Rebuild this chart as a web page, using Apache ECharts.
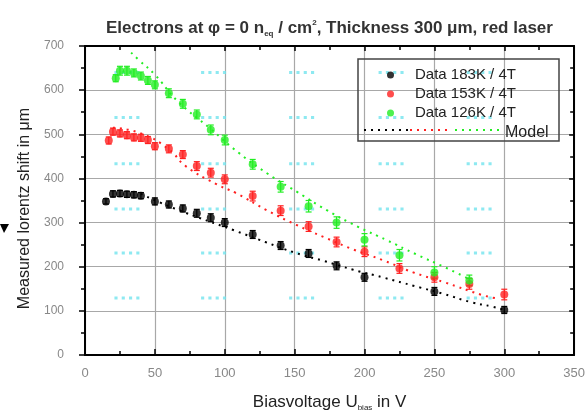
<!DOCTYPE html>
<html>
<head>
<meta charset="utf-8">
<script src="https://cdn.jsdelivr.net/npm/echarts@6/dist/echarts.min.js"></script>
<style>html,body{margin:0;padding:0;background:#fff}#c{width:588px;height:417px}</style>
</head>
<body>
<div id="c"></div>
<script>
// ---- data ----
const blackX = [15,20,25,30,35,40,50,60,70,80,90,100,120,140,160,180,200,250,300];
const blackY = [348,365,366,364,363,361,348,341,332,321,311,300,273,248,230,202,176,144,102];
const blackErr = [6,7,7,7,7,7,8,8,8,9,9,9,9,9,9,9,9,9,8];

const redX = [17,20,25,30,35,40,45,50,60,70,80,90,100,120,140,160,180,200,225,250,275,300];
const redY = [486,506,502,498,493,492,487,473,467,454,428,413,398,360,327,291,256,234,196,176,161,137];
const redErr = [8,8,8,8,8,8,8,8,9,9,10,10,10,11,11,11,11,11,11,11,12,12];

const greenX = [22,25,30,35,40,45,50,60,70,80,90,100,120,140,160,180,200,225,250,275];
const greenY = [627,644,644,639,632,622,612,593,569,545,510,487,432,381,337,300,261,226,187,169];
const greenErr = [8,10,10,9,9,9,9,10,10,10,11,11,11,12,13,13,14,13,13,12];

const modelBlackX = [40,64,107,129,150,171,192,214,236,256,277,291,300];
const modelBlackY = [365,332,282,256,232,213,193,175,156,139,119,110,102];
const modelRedX = [20,40,60,72,94,108,130,151,171,192,213,235,257,284,295];
const modelRedY = [515,502,466,428,387,367,328,295,267,239,215,187,165,136,128];
const modelGreenX = [33,39,50,66,90,110,131,152,173,195,216,237,258,275];
const modelGreenY = [685,667,635,576,512,458,410,369,328,291,260,228,198,172];

// faint cyan dot clusters (scan artefacts) – cluster centres
const cyanColsX = [30,92,155,219,282];
const cyanRowsY = [640,538,433,331,231,129];

const xTicks = {min:0, max:350, step:50};
const yTicks = {min:0, max:700, step:100};

const seriesNames = ['Data 183K / 4T','Data 153K / 4T','Data 126K / 4T'];
const colors = ['#000000','#ff2020','#22ee22'];

function zip(xs, ys){ return xs.map((x,i)=>[x,ys[i]]); }
function zip3(xs, ys, es){ return xs.map((x,i)=>[x,ys[i],es[i]]); }

const cyanPts = [];
cyanRowsY.forEach(y=>cyanColsX.forEach(x=>cyanPts.push([x,y])));

function errRender(color){
  return function(params, api){
    const x = api.value(0), y = api.value(1), e = api.value(2);
    const t = api.coord([x, y+e]), b = api.coord([x, y-e]);
    const w = 3;
    const st = {stroke: color, lineWidth: 1.2};
    return {type:'group', children:[
      {type:'line', shape:{x1:t[0],y1:t[1],x2:b[0],y2:b[1]}, style:st},
      {type:'line', shape:{x1:t[0]-w,y1:t[1],x2:t[0]+w,y2:t[1]}, style:st},
      {type:'line', shape:{x1:b[0]-w,y1:b[1],x2:b[0]+w,y2:b[1]}, style:st}
    ]};
  };
}

const dataSets = [
  {x:blackX, y:blackY, e:blackErr},
  {x:redX, y:redY, e:redErr},
  {x:greenX, y:greenY, e:greenErr}
];
const models = [
  {x:modelBlackX, y:modelBlackY},
  {x:modelRedX, y:modelRedY},
  {x:modelGreenX, y:modelGreenY}
];

const series = [];
series.push({
  name:'marks', type:'scatter', silent:true, z:1,
  symbol:'path://M0,0h3v3h-3z M7,0h3v3h-3z M14,0h3v3h-3z M21,0h3v3h-3z',
  symbolSize:[25,3],
  itemStyle:{color:'#72e4ee'},
  data:cyanPts
});
models.forEach((m,i)=>{
  series.push({
    name:'Model', type:'line', smooth:true, showSymbol:false, z:2,
    lineStyle:{color:colors[i], width:2, type:[2,5]},
    itemStyle:{color:colors[i]},
    data:zip(m.x,m.y)
  });
});
dataSets.forEach((d,i)=>{
  series.push({
    name:seriesNames[i], type:'scatter', z:4,
    symbol:'circle', symbolSize:8,
    itemStyle:{color:colors[i]},
    data:zip(d.x,d.y)
  });
  series.push({
    name:seriesNames[i], type:'custom', z:3,
    itemStyle:{color:colors[i]},
    renderItem:errRender(colors[i]),
    encode:{x:0,y:1},
    data:zip3(d.x,d.y,d.e)
  });
});

const chart = echarts.init(document.getElementById('c'), null, {renderer:'canvas'});
const axisCommon = {
  axisLine:{show:true, onZero:false, lineStyle:{color:'#000', width:2}},
};
const ff = 'Liberation Sans';
chart.setOption({
  animation:false,
  backgroundColor:'#fff',
  title:{
    left:106, top:13, padding:[5,0,5,0],
    text:'{a|Electrons at φ = 0 n}{s|eq}{a| / cm}{p|2}{a|, Thickness 300 μm, red laser}',
    textStyle:{
      fontWeight:'bold',
      rich:{
        a:{fontFamily:ff, fontSize:17, fontWeight:'bold', color:'#333'},
        s:{fontFamily:ff, fontSize:8, fontWeight:'bold', color:'#333', padding:[12,0,0,0]},
        p:{fontFamily:ff, fontSize:8, fontWeight:'bold', color:'#333', padding:[0,0,10,0]}
      }
    }
  },
  grid:{left:85, right:8, top:46, bottom:56, show:false},
  legend:[{
    data:seriesNames.map((n,i)=>({name:n, itemStyle:{color:colors[i]}})),
    orient:'vertical', left:382, top:60.5, selectedMode:true,
    icon:'circle', itemWidth:7, itemHeight:7, itemGap:0,
    textStyle:{fontFamily:ff, fontSize:15, color:'#222', lineHeight:19, padding:[0,0,0,16]}
  },{
    data:[{name:'Model', itemStyle:{opacity:0}, lineStyle:{opacity:0}}], left:494, top:118,
    icon:'rect', itemWidth:1, itemHeight:1,
    textStyle:{fontFamily:ff, fontSize:16, color:'#222', lineHeight:19}
  }],
  graphic:[
    {type:'rect', shape:{x:358, y:59, width:201, height:82}, style:{fill:'none', stroke:'#444', lineWidth:1.5}, z:10},
    {type:'line', shape:{x1:364,y1:130,x2:408,y2:130}, style:{stroke:'#000', lineWidth:2, lineDash:[2,5]}, z:10},
    {type:'line', shape:{x1:410,y1:130,x2:452,y2:130}, style:{stroke:'#ff2020', lineWidth:2, lineDash:[2,5]}, z:10},
    {type:'line', shape:{x1:455,y1:130,x2:500,y2:130}, style:{stroke:'#22ee22', lineWidth:2, lineDash:[2,5]}, z:10},
    {type:'polygon', shape:{points:[[0,224],[9,224],[4,233]]}, style:{fill:'#000'}}
  ],
  xAxis:[{
    type:'value', min:xTicks.min, max:xTicks.max, interval:xTicks.step, position:'bottom',
    ...axisCommon,
    axisTick:{show:true, inside:true, length:6, lineStyle:{color:'#000', width:1.5}},
    minorTick:{show:true, splitNumber:2, length:4, lineStyle:{color:'#000', width:1.5}},
    axisLabel:{color:'#888', fontFamily:ff, fontSize:13, margin:12},
    splitLine:{show:true, lineStyle:{color:'#a8a8a8', width:1.2}},
    name:'{a|Biasvoltage U}{s|bias}{a| in V}', nameLocation:'middle', nameGap:37,
    nameTextStyle:{rich:{
      a:{fontFamily:ff, fontSize:17, color:'#222'},
      s:{fontFamily:ff, fontSize:8, color:'#222', padding:[12,0,0,0]}
    }}
  },{
    type:'value', min:xTicks.min, max:xTicks.max, interval:xTicks.step, position:'top',
    ...axisCommon,
    axisTick:{show:true, inside:true, length:5, lineStyle:{color:'#000', width:1.5}},
    minorTick:{show:true, splitNumber:2, length:4, lineStyle:{color:'#000', width:1.5}},
    axisLabel:{show:false}, splitLine:{show:false}
  }],
  yAxis:[{
    type:'value', min:yTicks.min, max:yTicks.max, interval:yTicks.step, position:'left',
    ...axisCommon,
    axisTick:{show:true, inside:false, length:6, lineStyle:{color:'#000', width:1.5}},
    minorTick:{show:true, splitNumber:2, length:4, lineStyle:{color:'#000', width:1.5}},
    axisLabel:{color:'#888', fontFamily:ff, fontSize:12, margin:21},
    splitLine:{show:true, lineStyle:{color:'#a8a8a8', width:1.2}},
    name:'Measured lorentz shift in μm', nameLocation:'middle', nameGap:47, nameRotate:90,
    nameTextStyle:{fontFamily:ff, fontSize:16, color:'#222', padding:[0,16,0,0]}
  },{
    type:'value', min:yTicks.min, max:yTicks.max, interval:yTicks.step, position:'right',
    ...axisCommon,
    axisTick:{show:true, inside:true, length:5, lineStyle:{color:'#000', width:1.5}},
    minorTick:{show:true, splitNumber:2, length:4, lineStyle:{color:'#000', width:1.5}},
    axisLabel:{show:false}, splitLine:{show:false}
  }],
  series:series
});
</script>
</body>
</html>
